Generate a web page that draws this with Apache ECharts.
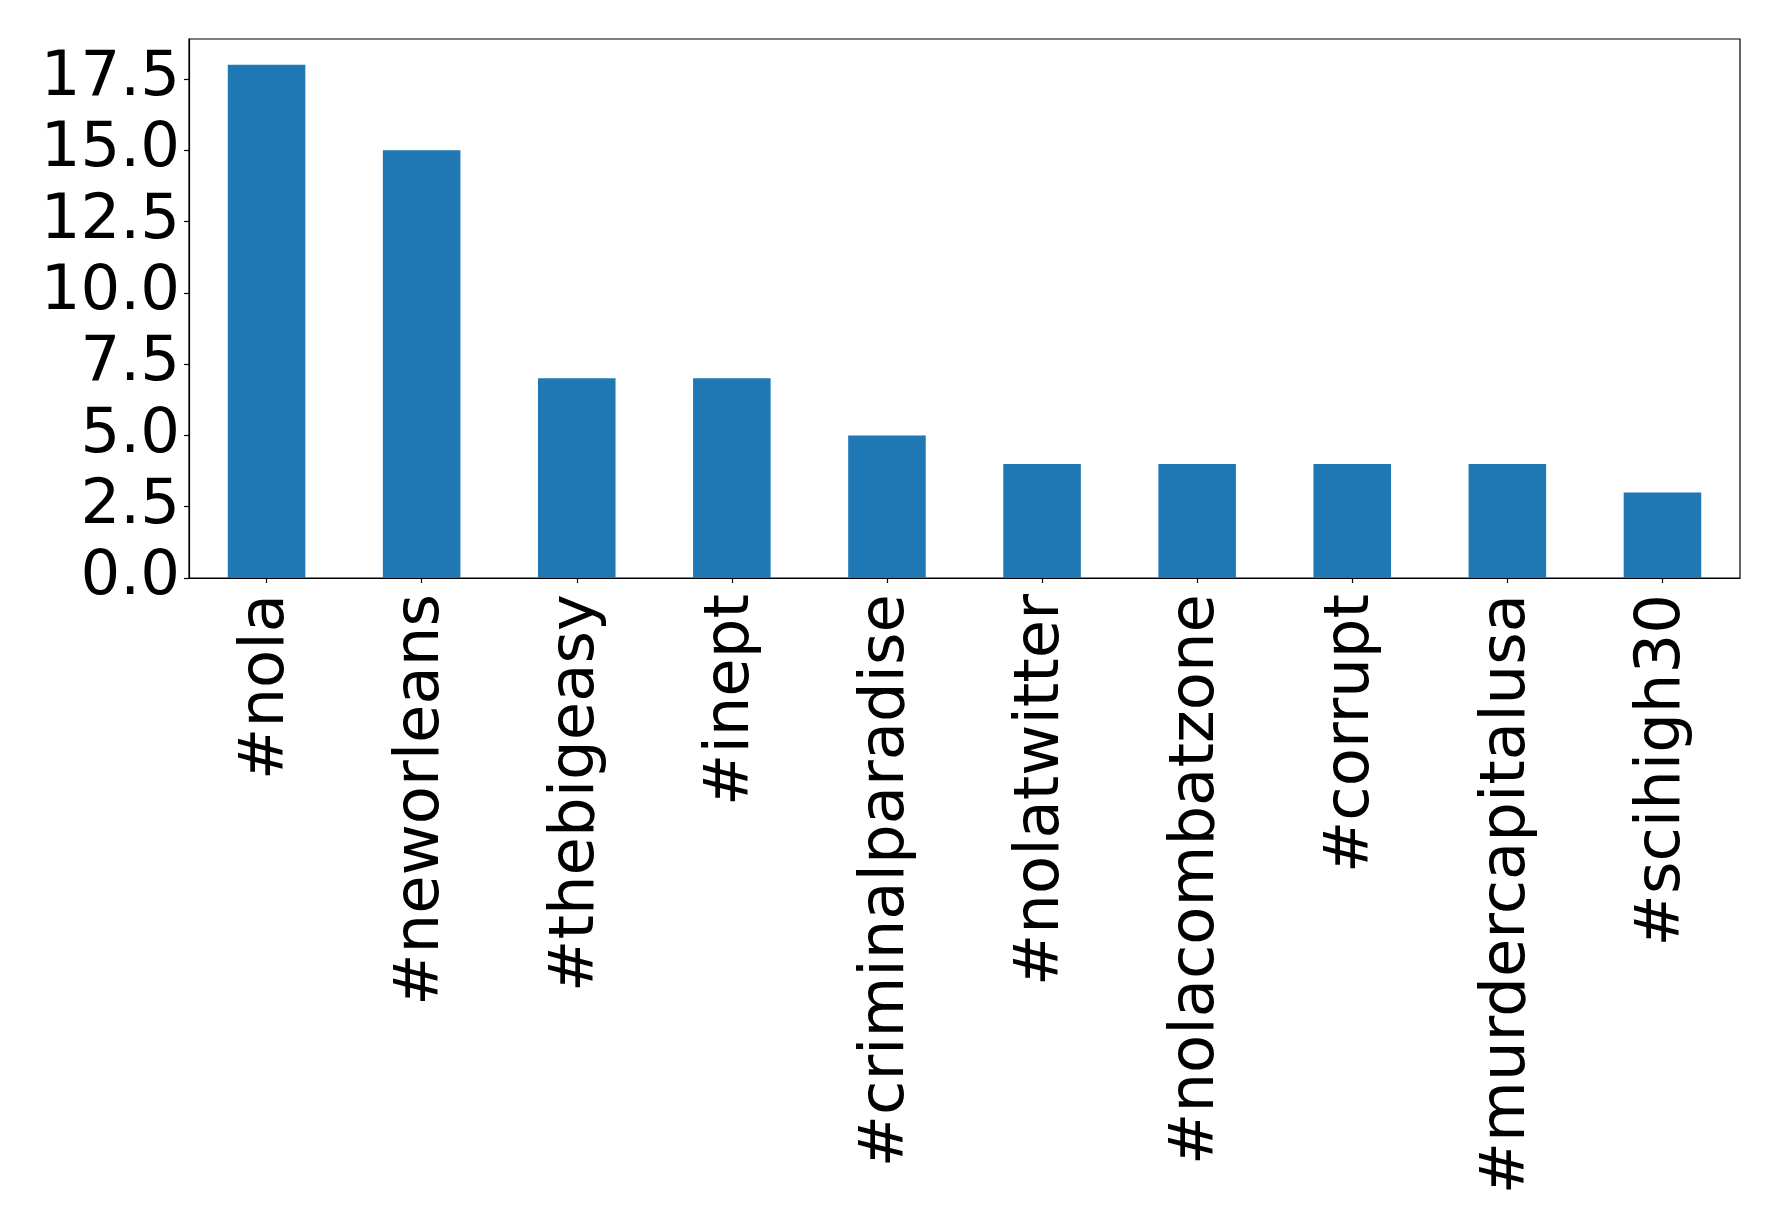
<!DOCTYPE html>
<html><head><meta charset="utf-8">
<script src="https://cdn.jsdelivr.net/npm/echarts@6/dist/echarts.min.js"></script>
<style>html,body{margin:0;padding:0;background:#fff}#c{width:1778px;height:1228px}</style>
</head><body><div id="c"></div>
<script>
const categories = ['#nola','#neworleans','#thebigeasy','#inept','#criminalparadise','#nolatwitter','#nolacombatzone','#corrupt','#murdercapitalusa','#scihigh30'];
const counts = [18,15,7,7,5,4,4,4,4,3];
const yTicks = [0,2.5,5,7.5,10,12.5,15,17.5];

const chart = echarts.init(document.getElementById('c'), null, {renderer:'canvas'});
const font = 'DejaVu Sans';
chart.setOption({
  animation:false,
  backgroundColor:'#fff',
  grid:{left:189,top:39,right:38,bottom:650,show:true,borderColor:'#000',borderWidth:1.2,backgroundColor:'transparent'},
  xAxis:{type:'category',data:categories,boundaryGap:true,
    axisLine:{show:true,lineStyle:{color:'#000',width:1.2}},
    axisTick:{show:true,alignWithLabel:true,length:5,lineStyle:{color:'#000',width:1.2}},
    axisLabel:{rotate:90,interval:0,color:'#000',fontFamily:font,fontSize:62.5,margin:16},
    splitLine:{show:false}},
  yAxis:{type:'value',min:0,max:18.9,
    axisLine:{show:true,lineStyle:{color:'#000',width:1.2}},
    axisTick:{show:true,length:5,customValues:yTicks,lineStyle:{color:'#000',width:1.2}},
    axisLabel:{customValues:yTicks,color:'#000',fontFamily:font,fontSize:62.5,margin:9,formatter:v=>v.toFixed(1)},
    splitLine:{show:false}},
  series:[{type:'bar',data:counts,barWidth:'50%',itemStyle:{color:'#1f77b4'}}]
});
</script></body></html>
